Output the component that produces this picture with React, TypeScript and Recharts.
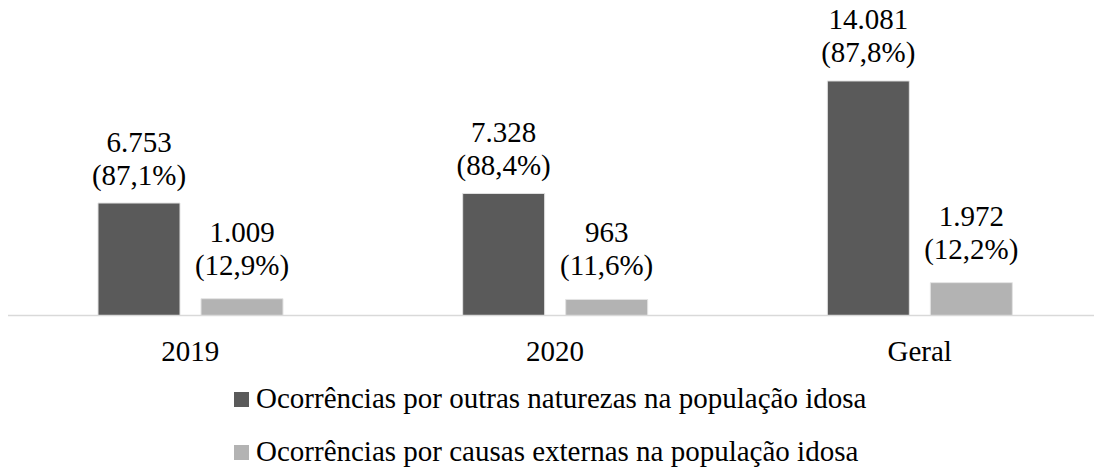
import React from 'react';
import { BarChart, Bar, XAxis, YAxis, LabelList } from 'recharts';

const categories = ['2019', '2020', 'Geral'];
const outrasNaturezas = [6753, 7328, 14081];
const causasExternas = [1009, 963, 1972];
const outrasPct = [87.1, 88.4, 87.8];
const externasPct = [12.9, 11.6, 12.2];

const seriesNames = [
  'Ocorrências por outras naturezas na população idosa',
  'Ocorrências por causas externas na população idosa',
];

const DARK = '#5a5a5a';
const LIGHT = '#b3b3b3';
const FONT = 'Liberation Serif';

const chartData = categories.map((name, i) => ({
  name,
  outras: outrasNaturezas[i],
  externas: causasExternas[i],
}));

const fmtNum = (v: number) => String(v).replace(/\B(?=(\d{3})+(?!\d))/g, '.');
const fmtPct = (v: number) => `(${v.toFixed(1).replace('.', ',')}%)`;

function makeLabel(pcts: number[], gap: number) {
  return (props: any) => {
    const { x, y, width, value, index } = props;
    const cx = Number(x) + Number(width) / 2;
    const base = Number(y) - gap;
    return (
      <text textAnchor="middle" fontFamily={FONT} fontSize={29} fill="#000">
        <tspan x={cx} y={base - 33}>{fmtNum(Number(value))}</tspan>
        <tspan x={cx} y={base}>{fmtPct(pcts[index])}</tspan>
      </text>
    );
  };
}

export default function App() {
  return (
    <div
      style={{
        position: 'absolute',
        left: 0,
        top: 0,
        width: 1094,
        height: 469,
        overflow: 'hidden',
        background: '#fff',
        fontFamily: FONT,
      }}
    >
      <BarChart
        width={1102}
        height={380}
        data={chartData}
        margin={{ top: 49, right: 0, left: 8, bottom: 14.5 }}
        barSize={82}
        barGap={21}
      >
        <XAxis
          dataKey="name"
          height={50}
          tickLine={false}
          tickSize={0}
          tickMargin={24.5}
          axisLine={{ stroke: '#d9d9d9', strokeWidth: 1.5 }}
          tick={{ fontSize: 29, fill: '#000', fontFamily: FONT }}
        />
        <YAxis hide domain={[0, 16000]} />
        <Bar dataKey="outras" fill={DARK} stroke="#e3e3e3" strokeWidth={1} isAnimationActive={false}>
          <LabelList dataKey="outras" content={makeLabel(outrasPct, 18.5)} />
        </Bar>
        <Bar dataKey="externas" fill={LIGHT} stroke="#e3e3e3" strokeWidth={1} isAnimationActive={false}>
          <LabelList dataKey="externas" content={makeLabel(externasPct, 24)} />
        </Bar>
      </BarChart>
      <svg
        width={1094}
        height={469}
        style={{ position: 'absolute', left: 0, top: 0, pointerEvents: 'none' }}
      >
        {seriesNames.map((name, i) => (
          <g key={name}>
            <rect x={234} y={392 + i * 53} width={15} height={15} fill={i === 0 ? DARK : LIGHT} />
            <text x={256} y={407.5 + i * 53} fontFamily={FONT} fontSize={29} fill="#000">
              {name}
            </text>
          </g>
        ))}
      </svg>
    </div>
  );
}
